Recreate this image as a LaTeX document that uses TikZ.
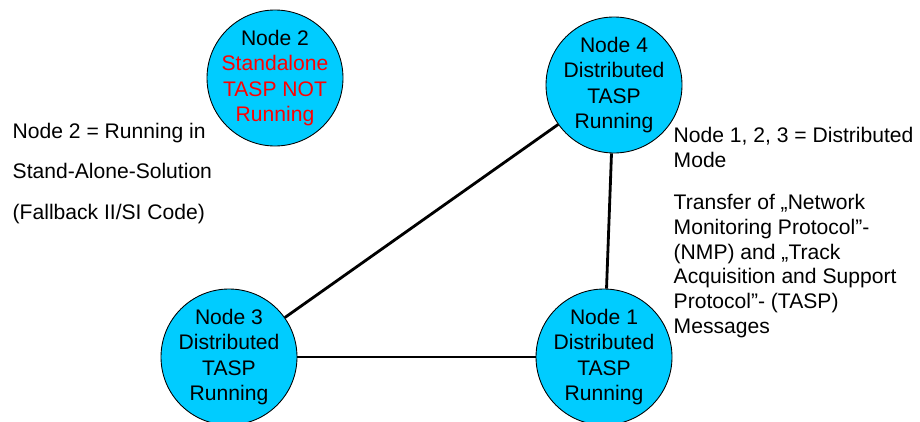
\documentclass[tikz,border=0pt]{standalone}
\usepackage{fontspec}
\setmainfont{Liberation Sans}
\usepackage{xcolor}
\usetikzlibrary{positioning}
\definecolor{taspblue}{RGB}{0,204,255}

\begin{document}
\begin{tikzpicture}[thick,
    tasp/.style={circle, draw=black, line width=0.5pt, fill=taspblue, minimum size=2.72cm,
        inner sep=-0.2cm, align=center, font=\fontsize{12}{14.5}\selectfont},
    link/.style={line width=1.6pt},
    note/.style={anchor=base west, inner sep=0pt, align=left}]
    % Frame of the page
    \useasboundingbox (0,0) rectangle (18.4,8.42);

    % Nodes
    \node[tasp] (node2) at (5.50,6.86) {Node 2\\\color{red}Standalone\\\color{red}TASP NOT\\\color{red}Running};
    \node[tasp] (node4) at (12.28,6.72) {Node 4\\Distributed\\TASP\\Running};
    \node[tasp] (node3) at (4.58,1.28) {Node 3\\Distributed\\TASP\\Running};
    \node[tasp] (node1) at (12.08,1.28) {Node 1\\Distributed\\TASP\\Running};

    % Connections
    \draw[link] (node3) -- (node4);
    \draw[link] (node4) -- (node1);
    \draw[link] (node3) -- (node1);

    % Notes (anchored at the last baseline)
    \node[note, font=\fontsize{12}{22.8}\selectfont] (standalone) at (0.24,4.04)
        {Node 2 = Running in\\Stand-Alone-Solution\\(Fallback II/SI Code)};
    \node[note, font=\fontsize{12}{14}\selectfont] (distributed) at (13.46,5.08)
        {Node 1, 2, 3 = Distributed\\Mode};
    \node[note, font=\fontsize{12}{14}\selectfont] (transfer) at (13.46,1.76)
        {Transfer of „Network\\Monitoring Protocol”-\\(NMP) and „Track\\Acquisition and Support\\Protocol”- (TASP)\\Messages};
\end{tikzpicture}
\end{document}
